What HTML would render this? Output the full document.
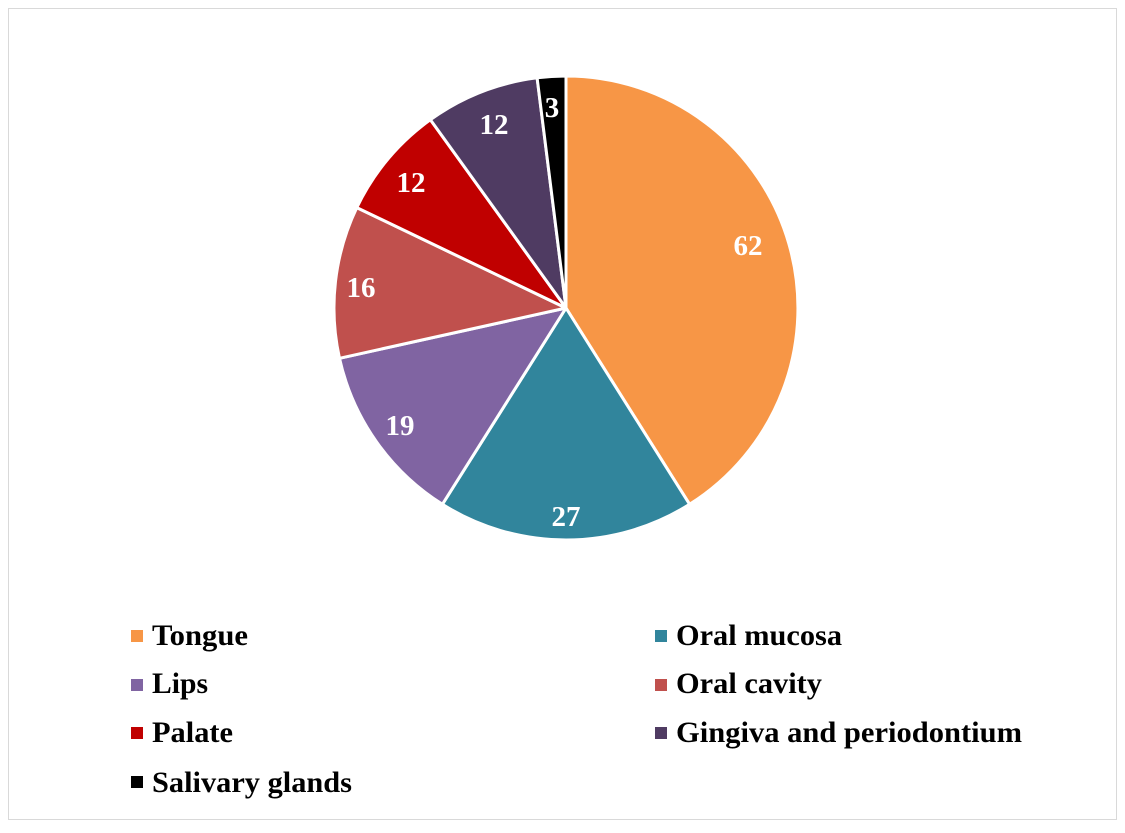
<!DOCTYPE html>
<html><head><meta charset="utf-8"><style>
body{margin:0;background:#fff;}
svg text{font-family:"Liberation Serif",serif;font-weight:bold;}
</style></head><body>
<svg width="1125" height="828" xmlns="http://www.w3.org/2000/svg">
<rect x="8.5" y="8.5" width="1108" height="811" fill="#fff" stroke="#d9d9d9" stroke-width="1"/>
<g stroke="#fff" stroke-width="3" stroke-linejoin="round">
<path d="M566,308 L566,76 A232,232 0 0 1 689.6,504.3 Z" fill="#F79646"/>
<path d="M566,308 L689.6,504.3 A232,232 0 0 1 442.4,504.3 Z" fill="#31859C"/>
<path d="M566,308 L442.4,504.3 A232,232 0 0 1 339.5,358.3 Z" fill="#8064A2"/>
<path d="M566,308 L339.5,358.3 A232,232 0 0 1 356.8,207.6 Z" fill="#C0504D"/>
<path d="M566,308 L356.8,207.6 A232,232 0 0 1 430.4,119.7 Z" fill="#C00000"/>
<path d="M566,308 L430.4,119.7 A232,232 0 0 1 537.1,77.8 Z" fill="#4F3B62"/>
<path d="M566,308 L537.1,77.8 A232,232 0 0 1 566,76 Z" fill="#000"/>
</g>
<g fill="#fff" font-size="29" text-anchor="middle">
<text x="748" y="255">62</text>
<text x="566" y="526">27</text>
<text x="400" y="435">19</text>
<text x="361" y="297">16</text>
<text x="411" y="192">12</text>
<text x="494" y="134">12</text>
<text x="552" y="117">3</text>
</g>
<g font-size="30" fill="#000">
<rect x="131" y="630" width="12" height="12" fill="#F79646"/><text x="152" y="645" textLength="96" lengthAdjust="spacingAndGlyphs">Tongue</text>
<rect x="655" y="630" width="12" height="12" fill="#31859C"/><text x="676" y="645" textLength="166" lengthAdjust="spacingAndGlyphs">Oral mucosa</text>
<rect x="131" y="679" width="12" height="12" fill="#8064A2"/><text x="152" y="693" textLength="56" lengthAdjust="spacingAndGlyphs">Lips</text>
<rect x="655" y="679" width="12" height="12" fill="#C0504D"/><text x="676" y="693" textLength="146" lengthAdjust="spacingAndGlyphs">Oral cavity</text>
<rect x="131" y="727" width="12" height="12" fill="#C00000"/><text x="152" y="742" textLength="81" lengthAdjust="spacingAndGlyphs">Palate</text>
<rect x="655" y="727" width="12" height="12" fill="#4F3B62"/><text x="676" y="742" textLength="346" lengthAdjust="spacingAndGlyphs">Gingiva and periodontium</text>
<rect x="131" y="776" width="12" height="12" fill="#000"/><text x="152" y="792" textLength="200" lengthAdjust="spacingAndGlyphs">Salivary glands</text>
</g>
</svg>
</body></html>
